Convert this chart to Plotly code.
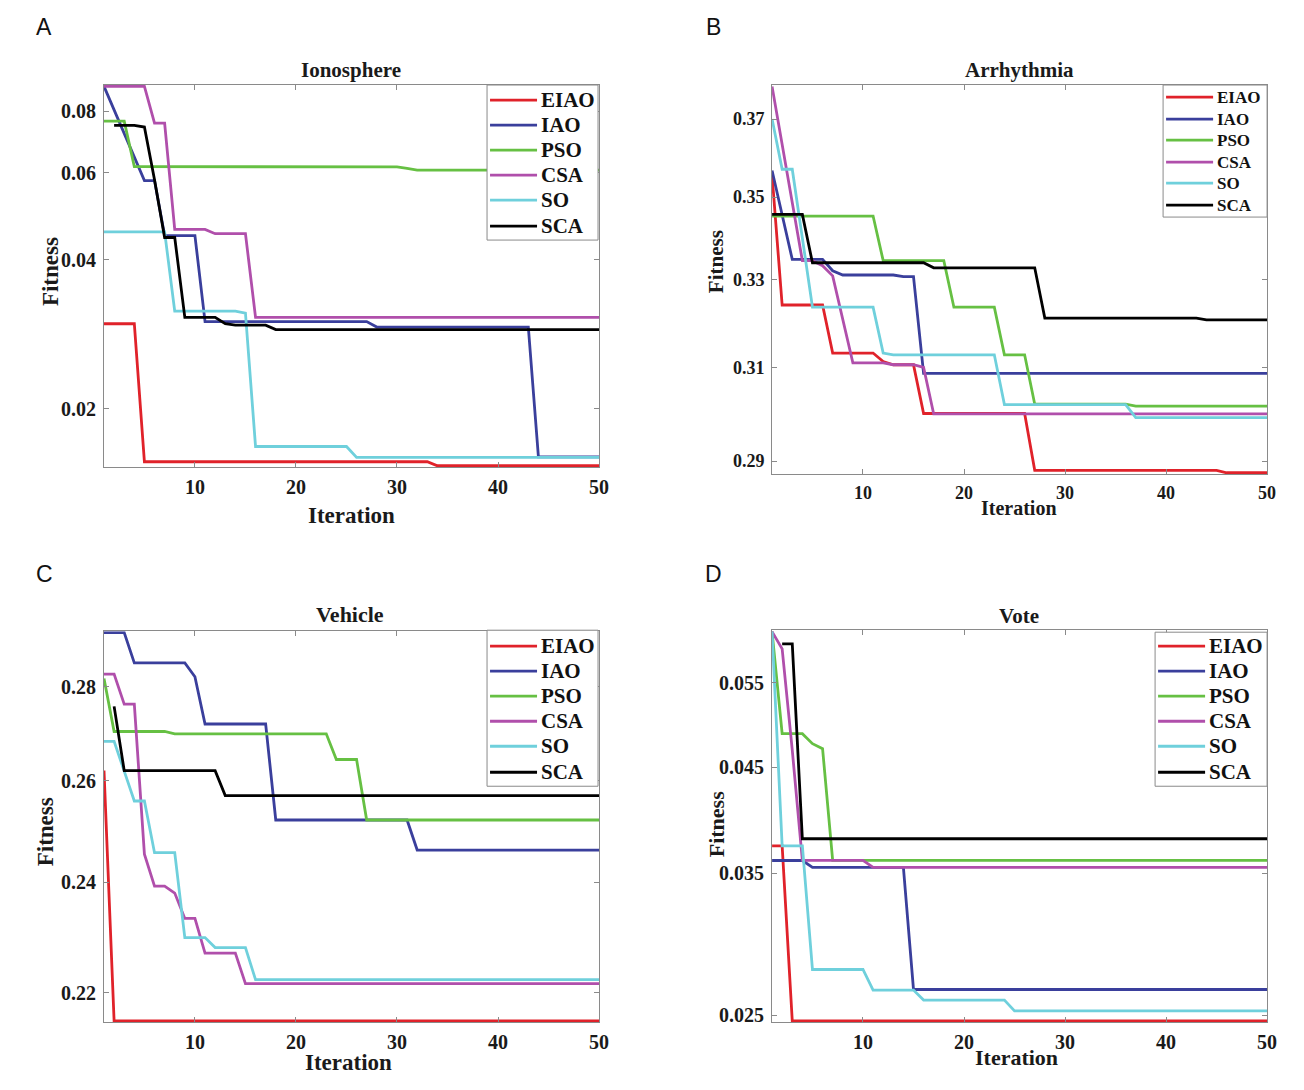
import plotly.graph_objects as go
import math

W, H = 1304, 1090
iters = list(range(1, 51))
names = ["EIAO", "IAO", "PSO", "CSA", "SO", "SCA"]
colors = ["#e0222a", "#3a3f9c", "#66c043", "#b04fab", "#6fd0dc", "#000000"]


def steps(pairs):
    """pairs: list of (last_iteration, value); value held through that iteration"""
    out = []
    for last, v in pairs:
        while len(out) < last:
            out.append(v)
    return out

# ---------------- Ionosphere ----------------
iono_eiao = steps([(4, 0.0297), (33, 0.01561), (50, 0.01532)])
iono_iao = steps([(1, 0.0898), (2, 0.0805), (3, 0.0722), (4, 0.0646), (6, 0.0579),
                  (10, 0.0448), (27, 0.0300), (43, 0.02925), (50, 0.01597)])
iono_pso = steps([(3, 0.0764), (15, 0.0618), (30, 0.0617), (31, 0.0613), (50, 0.0608)])
iono_csa = steps([(5, 0.0898), (7, 0.0757), (11, 0.0461), (15, 0.0452), (50, 0.0306)])
iono_so = steps([(7, 0.0456), (14, 0.0315), (15, 0.0312), (25, 0.01676), (50, 0.01593)])
iono_sca = steps([(1, None), (4, 0.0749), (5, 0.0743), (6, 0.0581), (8, 0.0444),
                  (12, 0.0306), (13, 0.0297), (17, 0.0295), (50, 0.0289)])

# ---------------- Arrhythmia ----------------
arr_eiao = steps([(1, 0.3556), (6, 0.3241), (11, 0.3132), (12, 0.3113), (15, 0.3106),
                  (26, 0.3000), (45, 0.2881), (50, 0.2876)])
arr_iao = steps([(1, 0.3567), (2, 0.3457), (6, 0.3348), (7, 0.3321), (13, 0.3311),
                 (15, 0.3307), (50, 0.3087)])
arr_pso = steps([(11, 0.3453), (18, 0.3345), (23, 0.3236), (26, 0.3128), (36, 0.3020), (50, 0.3016)])
arr_csa = steps([(1, 0.3787), (2, 0.3631), (3, 0.3479), (5, 0.3345), (6, 0.3333), (7, 0.3309),
                 (8, 0.3206), (12, 0.3110), (15, 0.3106), (16, 0.3100), (50, 0.2999)])
arr_so = steps([(1, 0.3700), (3, 0.3570), (4, 0.3400), (11, 0.3236), (12, 0.3132),
                (23, 0.3128), (36, 0.3019), (50, 0.2991)])
arr_sca = steps([(4, 0.3457), (16, 0.3340), (27, 0.3328), (43, 0.3211), (50, 0.3207)])

# ---------------- Vehicle ----------------
veh_eiao = steps([(1, 0.2621), (50, 0.2152)])
veh_iao = steps([(3, 0.2922), (9, 0.2853), (10, 0.2822), (17, 0.2719), (31, 0.2521), (50, 0.2462)])
veh_pso = steps([(1, 0.2818), (7, 0.2703), (23, 0.2698), (26, 0.2644), (50, 0.2521)])
veh_csa = steps([(2, 0.2828), (4, 0.2762), (5, 0.2454), (7, 0.2393), (8, 0.2380),
                 (10, 0.2333), (14, 0.2270), (50, 0.2216)])
veh_so = steps([(2, 0.2682), (3, 0.2620), (5, 0.2559), (8, 0.2457), (11, 0.2298),
                (15, 0.2280), (50, 0.2223)])
veh_sca = steps([(1, None), (2, 0.2757), (12, 0.2621), (50, 0.2570)])

# ---------------- Vote ----------------
vote_eiao = steps([(2, 0.03736), (50, 0.02467)])
vote_iao = steps([(4, 0.03609), (14, 0.0355), (50, 0.02658)])
vote_pso = steps([(1, 0.0621), (4, 0.04875), (5, 0.04761), (6, 0.04705), (50, 0.0361)])
vote_csa = steps([(1, 0.0621), (2, 0.05961), (3, 0.04688), (10, 0.0361), (50, 0.0355)])
vote_so = steps([(1, 0.0621), (4, 0.03736), (10, 0.02787), (15, 0.02654), (24, 0.02592), (50, 0.02526)])
vote_sca = steps([(1, None), (3, 0.06031), (50, 0.0380)])

panels = [
    dict(title="Ionosphere", series=[iono_eiao, iono_iao, iono_pso, iono_csa, iono_so, iono_sca],
         yr=(0.01532, 0.0898), yt=[0.02, 0.04, 0.06, 0.08], ytt=["0.02", "0.04", "0.06", "0.08"],
         box=(104, 599, 85, 467), letter="A", lpos=(44, 27), tick=20,
         tpos=(351, 70, 21), ipos=(351, 515, 23), fpos=(50, 272, 23),
         leg=(487, 598, 85, 240, 21, 490, 537, [100, 125, 150, 175, 200, 226])),
    dict(title="Arrhythmia", series=[arr_eiao, arr_iao, arr_pso, arr_csa, arr_so, arr_sca],
         yr=(0.2876, 0.3787), yt=[0.29, 0.31, 0.33, 0.35, 0.37], ytt=["0.29", "0.31", "0.33", "0.35", "0.37"],
         box=(772, 1267, 85, 474), letter="B", lpos=(713, 27), tick=18,
         tpos=(1019, 70, 21), ipos=(1019, 508, 20), fpos=(716, 262, 21),
         leg=(1163, 1267, 85, 217, 17, 1166, 1213, [97, 119, 140, 162, 183, 205])),
    dict(title="Vehicle", series=[veh_eiao, veh_iao, veh_pso, veh_csa, veh_so, veh_sca],
         yr=(0.2152, 0.2922), yt=[0.22, 0.24, 0.26, 0.28], ytt=["0.22", "0.24", "0.26", "0.28"],
         box=(104, 599, 631, 1022), letter="C", lpos=(44, 574), tick=20,
         tpos=(350, 614, 22), ipos=(348, 1062, 23), fpos=(45, 832, 23),
         leg=(487, 598, 630, 786, 21, 490, 537, [646, 671, 696, 721, 746, 772])),
    dict(title="Vote", series=[vote_eiao, vote_iao, vote_pso, vote_csa, vote_so, vote_sca],
         yr=(0.02467, 0.0621), yt=[0.025, 0.035, 0.045, 0.055], ytt=["0.025", "0.035", "0.045", "0.055"],
         box=(772, 1267, 630, 1022), letter="D", lpos=(713, 574), tick=20,
         tpos=(1019, 616, 21), ipos=(1016, 1057, 22), fpos=(716, 824, 22),
         leg=(1155, 1267, 632, 786, 21, 1158, 1205, [646, 671, 696, 721, 746, 772])),
]

fig = go.Figure()
serif = "Liberation Serif"
ink = "#1a1a1a"
axis_gray = "#8a8a8a"
annotations = []
shapes = []
layout = dict(width=W, height=H, margin=dict(l=0, r=0, t=0, b=0),
              paper_bgcolor="white", plot_bgcolor="white", showlegend=False)

KX, KY = 1.0078, 1.004  # small correction for the rendered page scale


def px(x):
    return min(1.0, x * KX / W)


def py(y):
    return max(0.0, 1 - y * KY / H)


for i, p in enumerate(panels):
    k = "" if i == 0 else str(i + 1)
    xa, ya = "x" + k, "y" + k
    for name, col, ser in zip(names, colors, p["series"]):
        fig.add_trace(go.Scatter(x=iters, y=ser, mode="lines", name=name,
                                 line=dict(color=col, width=2.8), xaxis=xa, yaxis=ya,
                                 connectgaps=False))
    x0, x1, y0, y1 = p["box"]
    lo, hi = math.log10(p["yr"][0]), math.log10(p["yr"][1])
    pad = 1.4 * (hi - lo) / (y1 - y0)
    tf = dict(family=serif, size=p["tick"], color=ink, weight="bold")
    axcommon = dict(showline=True, linecolor=axis_gray, linewidth=1, mirror="ticks",
                    ticks="inside", ticklen=5, tickcolor=axis_gray, showgrid=False,
                    zeroline=False, tickfont=tf)
    layout["xaxis" + k] = dict(domain=[px(x0), px(x1)], anchor=ya, range=[1, 50],
                               tickvals=[10, 20, 30, 40, 50], ticklabelstandoff=2, **axcommon)
    layout["yaxis" + k] = dict(domain=[py(y1), py(y0)], anchor=xa, type="log",
                               range=[lo - pad, hi + pad],
                               tickvals=p["yt"], ticktext=p["ytt"], ticklabelstandoff=3, **axcommon)

    # legend box (drawn as shapes + text so its size matches the original)
    bx0, bx1, by0, by1, lfs, lx0, lx1, lys = p["leg"]
    shapes.append(dict(type="rect", xref="paper", yref="paper", x0=px(bx0), x1=px(bx1),
                       y0=py(by1), y1=py(by0), fillcolor="white",
                       line=dict(color=axis_gray, width=1), layer="above"))
    for name, col, ly in zip(names, colors, lys):
        shapes.append(dict(type="line", xref="paper", yref="paper", x0=px(lx0), x1=px(lx1),
                           y0=py(ly), y1=py(ly), line=dict(color=col, width=2.8), layer="above"))
        annotations.append(dict(text=name, x=px(lx1 + 2), y=py(ly), xref="paper", yref="paper",
                                showarrow=False, xanchor="left", yanchor="middle",
                                font=dict(family=serif, size=lfs, color="#111", weight="bold")))

    tx, ty, ts = p["tpos"]
    annotations.append(dict(text=p["title"], x=px(tx), y=py(ty), xref="paper", yref="paper",
                            showarrow=False, xanchor="center", yanchor="middle",
                            font=dict(family=serif, size=ts, color=ink, weight="bold")))
    ix, iy, isz = p["ipos"]
    annotations.append(dict(text="Iteration", x=px(ix), y=py(iy), xref="paper", yref="paper",
                            showarrow=False, xanchor="center", yanchor="middle",
                            font=dict(family=serif, size=isz, color=ink, weight="bold")))
    fx, fy, fsz = p["fpos"]
    annotations.append(dict(text="Fitness", x=px(fx), y=py(fy), xref="paper", yref="paper",
                            showarrow=False, xanchor="center", yanchor="middle", textangle=-90,
                            font=dict(family=serif, size=fsz, color=ink, weight="bold")))
    lx2, ly2 = p["lpos"]
    annotations.append(dict(text=p["letter"], x=px(lx2), y=py(ly2), xref="paper", yref="paper",
                            showarrow=False, xanchor="center", yanchor="middle",
                            font=dict(family="Liberation Sans", size=23, color="#111")))

layout["annotations"] = annotations
layout["shapes"] = shapes
fig.update_layout(**layout)
fig.write_html("out.html",
               post_script="document.body.style.margin='0';document.body.style.overflow='hidden';")
